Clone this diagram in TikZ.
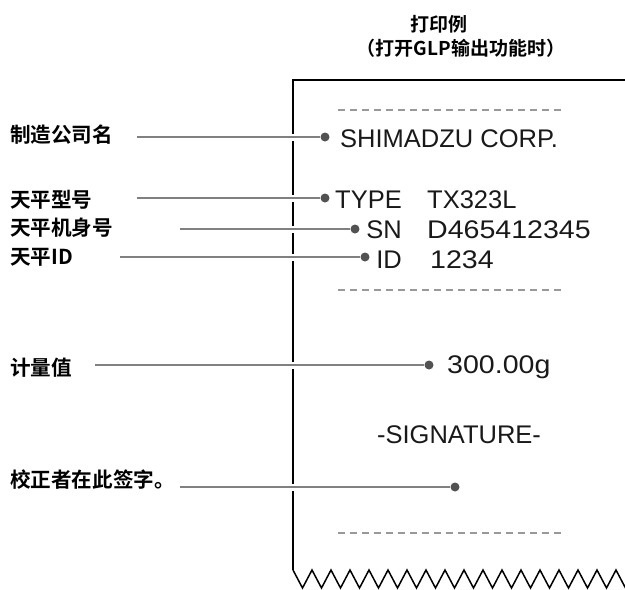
\documentclass[tikz,border=0pt]{standalone}
\usepackage{fontspec}
\usepackage{tikz}
\setmainfont{Liberation Sans}
\newfontfamily\cjk{Noto Sans CJK SC}[BoldFont={Noto Sans CJK SC Bold}]
\newfontfamily\numf{Liberation Sans}[FakeStretch=1.12]

\tikzset{
  lbl/.style={anchor=west,inner sep=0pt,font=\cjk\bfseries\fontsize{20.6}{24}\selectfont},
  ttl/.style={inner sep=0pt,font=\cjk\bfseries\fontsize{19}{22}\selectfont},
  prt/.style={inner sep=0pt,text=black!90,font=\fontsize{25.5}{30}\selectfont},
  val/.style={prt,anchor=base west,font=\numf\fontsize{25.5}{30}\selectfont},
  dot/.style={circle,fill=black!68,inner sep=0pt,minimum size=9pt},
  leader/.style={draw=black!50,line width=2pt,preaction={draw=white,line width=7pt}},
  cut/.style={draw=black!40,line width=1.5pt,dash pattern=on 7pt off 5pt}
}

\begin{document}
\begin{tikzpicture}[x=1pt,y=-1pt]
  \clip (0,0) rectangle (625,590);
  % 标题
  \node[ttl] (T1) at (439,24) {打印例};
  \node[ttl] (T2) at (461,48) {（打开GLP输出功能时）};
  % 打印纸：上边、左边、锯齿下边
  \draw[line width=2pt] (625,80) -- (293,80) -- (293,570);
  \draw[line width=1.5pt,line join=miter] (293,570)
    \foreach \i in {1,...,18} { -- ++(9.5,18) -- ++(9.5,-18) };
  % 虚线
  \draw[cut] (338,110) -- (562,110);
  \draw[cut] (338,290) -- (562,290);
  \draw[cut] (338,533) -- (562,533);
  % 打印内容
  \node[prt,anchor=base west] (Co) at (340,147) {SHIMADZU CORP.};
  \node[prt,anchor=base east] (Ty) at (402,208) {TYPE};
  \node[prt,anchor=base west] (TyV) at (427,208) {TX323L};
  \node[prt,anchor=base east] (Sn) at (402,238) {SN};
  \node[val] (SnV) at (427,238) {D465412345};
  \node[prt,anchor=base east] (Id) at (402,268) {ID};
  \node[val] (IdV) at (430,268) {1234};
  \node[val] (W) at (447,373) {300.00g};
  \node[prt,anchor=base] (Sig) at (459,443) {-SIGNATURE-};
  % 左侧说明
  \node[lbl] (L1) at (10,135) {制造公司名};
  \node[lbl] (L2) at (10,200) {天平型号};
  \node[lbl] (L3) at (10,228) {天平机身号};
  \node[lbl] (L4) at (10,257) {天平ID};
  \node[lbl] (L5) at (10,368) {计量值};
  \node[lbl] (L6) at (10,480) {校正者在此签字。};
  % 引线
  \coordinate (S1) at (137,137);
  \coordinate (S2) at (137,198);
  \coordinate (S3) at (180,229);
  \coordinate (S4) at (120,257);
  \coordinate (S5) at (95,365);
  \coordinate (S6) at (180,487);
  \node[dot] (D1) at (325,137) {};
  \node[dot] (D2) at (325,198) {};
  \node[dot] (D3) at (355,229) {};
  \node[dot] (D4) at (365,257) {};
  \node[dot] (D5) at (429,365) {};
  \node[dot] (D6) at (455,487) {};
  \foreach \n in {1,...,6}
    \draw[leader] (S\n) -- (D\n);
\end{tikzpicture}
\end{document}
